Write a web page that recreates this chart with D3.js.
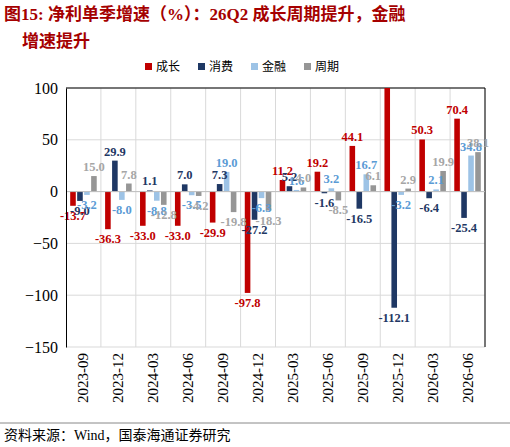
<!DOCTYPE html>
<html><head><meta charset="utf-8">
<script src="https://cdn.jsdelivr.net/npm/d3@7"></script>
<style>body{margin:0;background:#fff}text{font-family:"Liberation Serif","Noto Sans CJK SC",serif}</style>
</head><body><svg id="c" width="510" height="447"></svg>
<script>
const cats = ["2023-09","2023-12","2024-03","2024-06","2024-09","2024-12","2025-03","2025-06","2025-09","2025-12","2026-03","2026-06"];
const names = ["成长","消费","金融","周期"];
const chengzhang = [-13.7,-36.3,-33.0,-33.0,-29.9,-97.8,11.2,19.2,44.1,110,50.3,70.4];
const xiaofei = [-9.0,29.9,1.1,7.0,7.3,-27.2,5.2,-1.6,-16.5,-112.1,-6.4,-25.4];
const jinrong = [-3.2,-8.0,-8.8,-3.5,19.0,-6.3,1.6,3.2,16.7,-3.2,2.1,34.8];
const zhouqi = [15.0,7.8,-12.8,-4.2,-19.8,-18.3,4.0,-8.5,6.1,2.9,19.9,38.1];
const yTicks = [100,50,0,-50,-100,-150];
const series = [chengzhang,xiaofei,jinrong,zhouqi];
const barCol = ["#C00000","#1F3864","#9DC3E6","#969696"];
const lblCol = ["#C00000","#1F3864","#5B9BD5","#A6A6A6"];

const svg = d3.select("#c");
const L=66,R=485,T=88,B=347;
svg.append("text").attr("x",4).attr("y",20).attr("font-size",17).attr("font-weight","bold").attr("fill","#A50000").text("图15:  净利单季增速（%）：26Q2 成长周期提升，金融");
svg.append("text").attr("x",22).attr("y",47).attr("font-size",17).attr("font-weight","bold").attr("fill","#A50000").text("增速提升");

const x = d3.scaleBand().domain(cats).range([L,R]);
const y = d3.scaleLinear().domain([-150,100]).range([B,T]);
const xi = d3.scaleBand().domain(d3.range(4)).range([0,x.bandwidth()]).paddingOuter(0.6).paddingInner(0.2);

const g = svg.append("g");
g.selectAll(".hg").data(yTicks).join("line").attr("x1",L).attr("x2",R).attr("y1",d=>y(d)).attr("y2",d=>y(d)).attr("stroke","#d9d9d9");
g.selectAll(".vg").data(cats).join("line").attr("x1",d=>x(d)+x.bandwidth()).attr("x2",d=>x(d)+x.bandwidth()).attr("y1",T).attr("y2",B).attr("stroke","#d9d9d9");
svg.append("line").attr("x1",L).attr("x2",R).attr("y1",T).attr("y2",T).attr("stroke","#000");
svg.append("line").attr("x1",R).attr("x2",R).attr("y1",T).attr("y2",B).attr("stroke","#000");

svg.append("defs").append("clipPath").attr("id","cp").append("rect").attr("x",L).attr("y",T).attr("width",R-L).attr("height",B-T);
const bars = svg.append("g").attr("clip-path","url(#cp)");
series.forEach((s,k)=>{
  bars.selectAll(".b"+k).data(s).join("rect")
    .attr("x",(d,i)=>x(cats[i])+xi(k)).attr("width",xi.bandwidth())
    .attr("y",d=>y(Math.max(0,d))).attr("height",d=>Math.abs(y(d)-y(0))).attr("fill",barCol[k]);
});
series.forEach((s,k)=>{
  const pts = s.map((v,i)=>({v,i})).filter(p=>!(k==0&&p.i==9));
  svg.append("g").selectAll("text").data(pts).join("text")
    .attr("x",p=>x(cats[p.i])+xi(k)+xi.bandwidth()/2)
    .attr("y",p=>p.v>=0?y(p.v)-5:y(p.v)+14)
    .attr("text-anchor","middle").attr("font-size",12.5).attr("font-weight","bold").attr("fill",lblCol[k])
    .text(p=>p.v.toFixed(1));
});
svg.append("line").attr("x1",L).attr("x2",R).attr("y1",y(0)).attr("y2",y(0)).attr("stroke","#bfbfbf");

const ya = svg.append("g").attr("transform",`translate(${L},0)`).call(d3.axisLeft(y).tickValues(yTicks).tickSize(0).tickPadding(8));
ya.select(".domain").attr("stroke","#000");
ya.selectAll("text").attr("font-size",16).attr("font-family","Liberation Sans,Arial,sans-serif").attr("fill","#000");

svg.append("g").selectAll("text").data(cats).join("text")
  .attr("transform",d=>`translate(${x(d)+x.bandwidth()/2+5},${B+6}) rotate(-90)`)
  .attr("text-anchor","end").attr("font-size",15).attr("font-family","Liberation Sans,Arial,sans-serif").text(d=>d);

const lg = svg.append("g").attr("transform","translate(145,71)");
names.forEach((n,k)=>{
  const o = k*53;
  lg.append("rect").attr("x",o).attr("y",-8).attr("width",7).attr("height",7).attr("fill",barCol[k]);
  lg.append("text").attr("x",o+11).attr("y",0).attr("font-size",12).text(n);
});

svg.append("line").attr("x1",0).attr("x2",510).attr("y1",423).attr("y2",423).attr("stroke","#888");
svg.append("text").attr("x",4).attr("y",440).attr("font-size",14).text("资料来源：Wind，国泰海通证券研究");
</script></body></html>
